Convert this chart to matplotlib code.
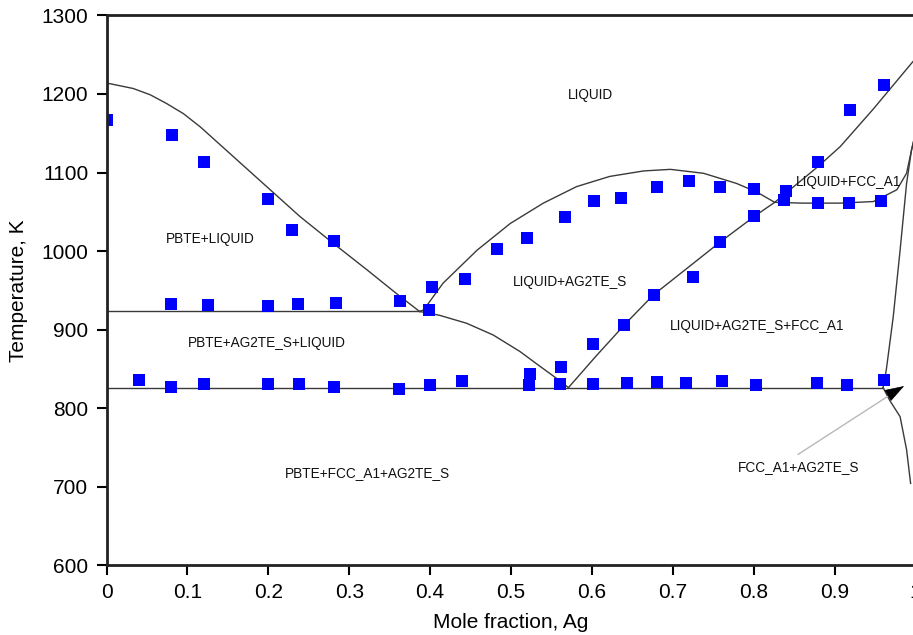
import matplotlib
matplotlib.use("Agg")
import matplotlib.pyplot as plt

# experimental points (mole fraction Ag, temperature K)
exp_x = [0.0, 0.081, 0.12, 0.2, 0.229, 0.281,
         0.08, 0.125, 0.2, 0.237, 0.284, 0.363, 0.399, 0.402,
         0.443, 0.483, 0.52, 0.567, 0.602, 0.636, 0.68, 0.72, 0.758, 0.8, 0.84,
         0.88, 0.919, 0.961,
         0.838, 0.88, 0.918, 0.958,
         0.801, 0.758, 0.725, 0.677, 0.64, 0.601, 0.562, 0.524,
         0.04, 0.08, 0.121, 0.199, 0.238, 0.281, 0.361, 0.4, 0.44, 0.522,
         0.561, 0.601, 0.643, 0.68, 0.716, 0.761, 0.803, 0.878, 0.915, 0.961]
exp_T = [1167, 1148, 1113, 1066, 1027, 1013,
         932, 931, 930, 933, 934, 936, 925, 954,
         964, 1002, 1017, 1043, 1064, 1067, 1081, 1089, 1081, 1079, 1076,
         1113, 1180, 1212,
         1065, 1061, 1061, 1064,
         1045, 1011, 967, 944, 906, 881, 852, 843,
         836, 827, 830, 830, 830, 827, 824, 829, 834, 829,
         831, 830, 832, 833, 832, 834, 829, 832, 829, 836]

# calculated phase boundaries
pbte_liq_x = [0, 0.033, 0.054, 0.074, 0.095, 0.116, 0.157, 0.198, 0.239, 0.28, 0.322, 0.363, 0.387]
pbte_liq_T = [1214, 1207, 1199, 1188, 1175, 1158, 1120, 1082, 1044, 1010, 976, 942, 923]

monotectic_x = [0, 0.387]
monotectic_T = [923, 923]

ag2te_low_x = [0.387, 0.412, 0.445, 0.478, 0.511, 0.536, 0.556, 0.571]
ag2te_low_T = [923, 918, 908, 893, 872, 853, 838, 826]

eutectic_x = [0, 0.96]
eutectic_T = [826, 826]

ag2te_liq_x = [0.387, 0.392, 0.416, 0.458, 0.499, 0.54, 0.581, 0.622, 0.664, 0.697,
               0.738, 0.779, 0.804, 0.826, 0.86, 0.907, 0.948, 0.977, 0.989, 0.995, 1.0]
ag2te_liq_T = [923, 925, 959, 1001, 1035, 1061, 1082, 1095, 1102, 1104,
               1099, 1086, 1075, 1062, 1061, 1061, 1063, 1078, 1099, 1128, 1150]

diag_x = [0.571, 0.605, 0.643, 0.676, 0.725, 0.758, 0.802, 0.826]
diag_T = [826, 866, 909, 944, 984, 1011, 1045, 1062]

fcc_liq_x = [0.826, 0.88, 0.907, 0.948, 0.995, 1.0]
fcc_liq_T = [1062, 1108, 1133, 1181, 1239, 1245]

fcc_up_x = [0.96, 0.964, 0.9725, 0.981, 0.989, 0.995, 1.0]
fcc_up_T = [826, 849, 916, 1001, 1086, 1128, 1150]

fcc_low_x = [0.96, 0.968, 0.981, 0.989, 0.994]
fcc_low_T = [826, 810, 789, 747, 704]

labels = ["LIQUID", "PBTE+LIQUID", "PBTE+AG2TE_S+LIQUID", "PBTE+FCC_A1+AG2TE_S",
          "LIQUID+AG2TE_S", "LIQUID+AG2TE_S+FCC_A1", "LIQUID+FCC_A1"]
label_x = [0.598, 0.128, 0.198, 0.322, 0.573, 0.804, 0.917]
label_T = [1199, 1015, 883, 717, 960, 904, 1088]

xticks = [0, 0.1, 0.2, 0.3, 0.4, 0.5, 0.6, 0.7, 0.8, 0.9, 1]
xtick_labels = ["0", "0.1", "0.2", "0.3", "0.4", "0.5", "0.6", "0.7", "0.8", "0.9", "1"]
yticks = [600, 700, 800, 900, 1000, 1100, 1200, 1300]

plt.rcParams['font.family'] = ['Liberation Sans', 'DejaVu Sans']

fig = plt.figure(figsize=(9.13, 6.35), dpi=100)
ax = fig.add_axes([0.1167, 0.1102, 0.8860, 0.8654])

line_kw = dict(color='#3a3a3a', lw=1.0)
for xs, ts in [(pbte_liq_x, pbte_liq_T), (monotectic_x, monotectic_T),
               (ag2te_low_x, ag2te_low_T), (eutectic_x, eutectic_T),
               (ag2te_liq_x, ag2te_liq_T), (diag_x, diag_T),
               (fcc_liq_x, fcc_liq_T), (fcc_up_x, fcc_up_T), (fcc_low_x, fcc_low_T)]:
    ax.plot(xs, ts, **line_kw)

ax.plot(exp_x, exp_T, 's', color='#0000ff', markersize=8.5, markeredgewidth=0)

for txt, lx, lt in zip(labels, label_x, label_T):
    ax.text(lx, lt, txt, ha='center', va='center', fontsize=9.8, color='#111111')

# pointer to the thin FCC_A1+AG2TE_S region
ax.text(0.855, 725, "FCC_A1+AG2TE_S", ha='center', va='center', fontsize=9.8, color='#111111')
ax.plot([0.855, 0.966], [741, 815], color='#b8b8b8', lw=1.0)
ax.annotate("", xy=(0.986, 828), xytext=(0.966, 816),
            arrowprops=dict(arrowstyle='-|>,head_length=0.9,head_width=0.3',
                            color='black', lw=0.5, mutation_scale=14,
                            shrinkA=0, shrinkB=0))

ax.set_xlim(0, 1)
ax.set_ylim(600, 1300)
ax.set_xticks(xticks)
ax.set_xticklabels(xtick_labels)
ax.set_yticks(yticks)
ax.tick_params(direction='out', length=7, width=1.5, labelsize=15, pad=6)
ax.spines['right'].set_visible(False)
for s in ['left', 'bottom', 'top']:
    ax.spines[s].set_linewidth(2)
    ax.spines[s].set_color('#222222')

ax.set_xlabel("Mole fraction, Ag", fontsize=15, labelpad=8)
ax.set_ylabel("Temperature, K", fontsize=15, labelpad=10)

fig.savefig("out.png", dpi=100)
